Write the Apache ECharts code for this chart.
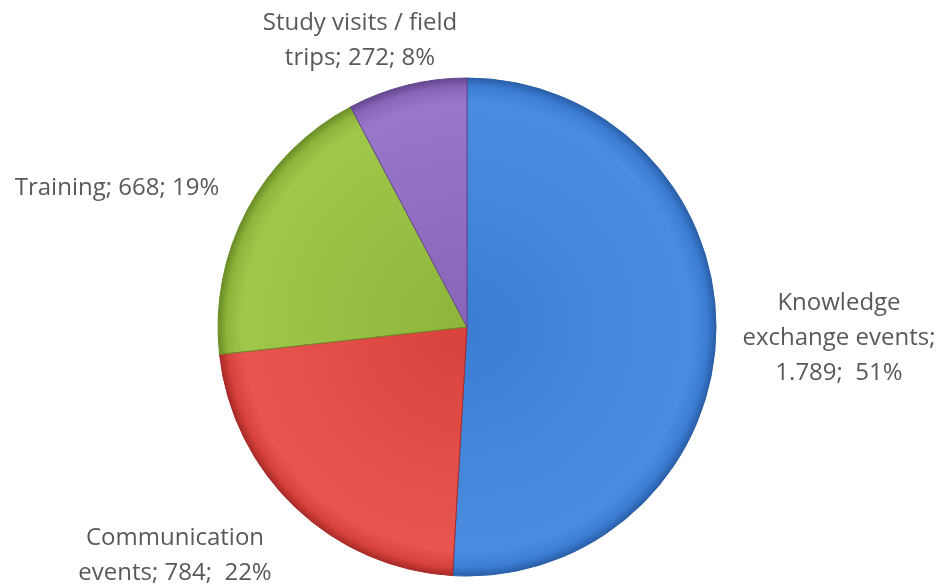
<!DOCTYPE html>
<html>
<head>
<meta charset="utf-8">
<script src="https://cdn.jsdelivr.net/npm/echarts@6/dist/echarts.min.js"></script>
<style>html,body{margin:0;padding:0;background:#fff}#c{width:943px;height:586px}</style>
</head>
<body>
<div id="c"></div>
<script>
var categories = ["Knowledge\nexchange events", "Communication\nevents", "Training", "Study visits / field\ntrips"];
var values = [1789, 784, 668, 272];

var baseColors = [
  ["#4a8de0", "#3b7dd3", "#2a5fa8"],
  ["#e8554f", "#d8423d", "#a82a27"],
  ["#9fc84a", "#8db53b", "#6a8c26"],
  ["#9a76c9", "#8963b8", "#64468e"]
];
var breakAfterName = [true, false, false, false];
var percentSep = [';  ', ';  ', '; ', '; '];
var labelPos = [[839, 338], [175, 556], [117, 188], [360, 41]];

var CX = 467, CY = 327, R = 249;

function fmtNum(v) {
  return String(v).replace(/\B(?=(\d{3})+(?!\d))/g, ".");
}

var data = categories.map(function (n, i) {
  return {
    name: n,
    value: values[i],
    itemStyle: {
      color: {
        type: 'radial', x: CX, y: CY, r: R, global: true,
        colorStops: [
          {offset: 0, color: baseColors[i][1]},
          {offset: 0.9, color: baseColors[i][0]},
          {offset: 0.965, color: baseColors[i][1]},
          {offset: 1, color: baseColors[i][2]}
        ]
      },
      borderColor: baseColors[i][2],
      borderWidth: 1
    }
  };
});

var chart = echarts.init(document.getElementById('c'));
chart.setOption({
  animation: false,
  series: [{
    type: 'pie',
    center: [CX, CY],
    radius: R,
    startAngle: 90,
    clockwise: true,
    data: data,
    label: {
      show: true,
      position: 'inner',
      overflow: 'none',
      fontFamily: 'Open Sans',
      fontSize: 24,
      lineHeight: 35,
      color: '#595959',
      textBorderWidth: 0,
      align: 'center',
      formatter: function (p) {
        var sep = breakAfterName[p.dataIndex] ? ';\n' : '; ';
        return p.name + sep + fmtNum(p.value) + percentSep[p.dataIndex] + Math.round(p.percent) + '%';
      }
    },
    labelLine: { show: false },
    labelLayout: function (params) {
      var pos = labelPos[params.dataIndex];
      return { x: pos[0], y: pos[1], align: 'center', verticalAlign: 'middle' };
    },
    emphasis: { disabled: true }
  }]
});
</script>
</body>
</html>
